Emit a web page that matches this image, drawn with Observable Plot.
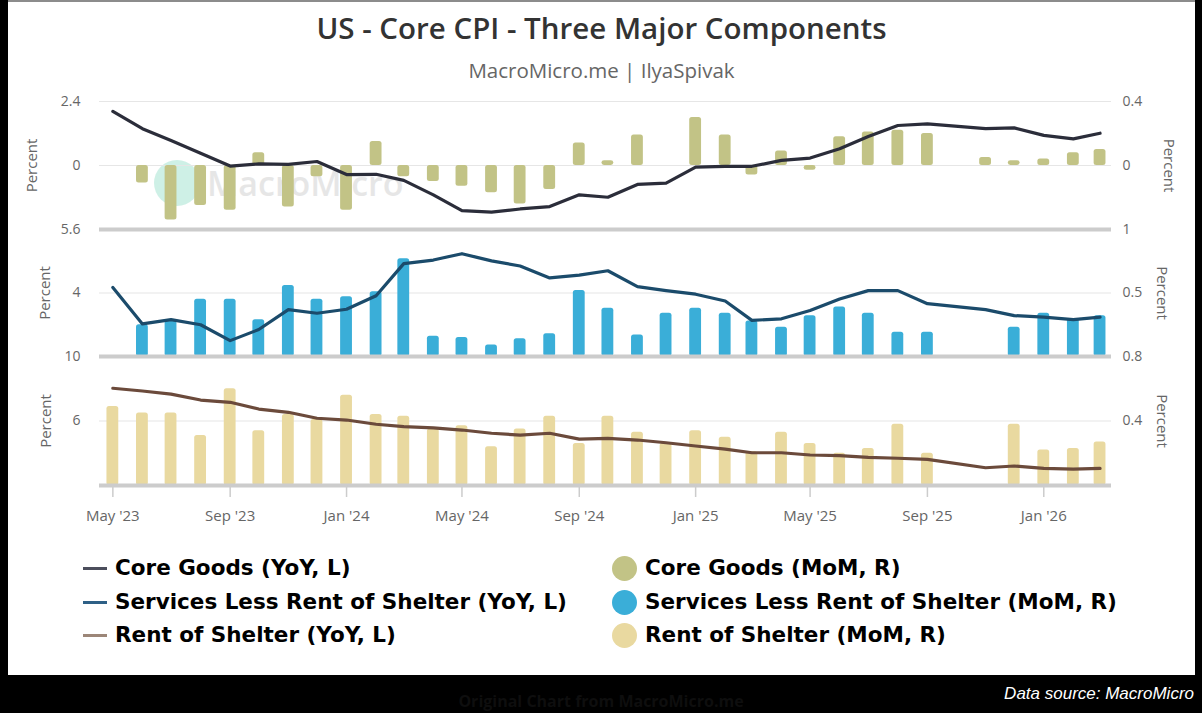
<!DOCTYPE html>
<html><head><meta charset="utf-8">
<script src="https://cdn.jsdelivr.net/npm/d3@7"></script>
<script src="https://cdn.jsdelivr.net/npm/@observablehq/plot@0.6"></script>
<style>
html,body{margin:0;padding:0;background:#000;}
body{width:1202px;height:713px;overflow:hidden;position:relative;font-family:"Open Sans",sans-serif;}
#card{position:absolute;left:8px;top:0;width:1187px;height:675px;background:#fff;overflow:hidden;}
#topline{position:absolute;left:0;top:0;width:100%;height:2px;background:#8c8c8c;}
#title{position:absolute;left:0;top:10px;width:100%;text-align:center;font-size:29.5px;font-weight:600;line-height:36px;color:#333;}
#subtitle{position:absolute;left:0;top:57px;width:100%;text-align:center;font-size:20.5px;line-height:26px;color:#666;}
.panel{position:absolute;left:0;}
.panel svg{overflow:visible;}
#wm{position:absolute;left:146px;top:160px;height:46px;opacity:0.5;}
#wm .c{position:absolute;left:0;top:0;width:46px;height:46px;border-radius:50%;background:#9fe3cf;}
#wm span{position:absolute;left:53px;top:0;line-height:46px;font-size:34px;font-weight:600;color:#cfcfcf;white-space:nowrap;}
.lg{position:absolute;height:30px;line-height:30px;font-family:"DejaVu Sans",sans-serif;font-weight:700;font-size:21.5px;color:#000;white-space:nowrap;}
.sw{position:absolute;}
#footer{position:absolute;left:0;top:675px;width:1202px;height:38px;background:#000;}
#src{position:absolute;right:8px;top:0;line-height:38px;font-family:"Liberation Sans",Arial,sans-serif;font-style:italic;font-size:17px;color:#fff;}
#ghost{position:absolute;left:0;width:1202px;text-align:center;top:14px;line-height:24px;font-size:16px;font-weight:700;color:#0e0e0e;}
</style></head><body>
<div id="card">
  <div id="topline"></div>
  <div id="title">US - Core CPI - Three Major Components</div>
  <div id="subtitle">MacroMicro.me | IlyaSpivak</div>
  <div id="wm"><div class="c"></div><span>MacroMicro</span></div>
  <div id="p1" class="panel"></div>
  <div id="p2" class="panel"></div>
  <div id="p3" class="panel"></div>
  <div id="legend"></div>
</div>
<div id="footer"><div id="ghost">Original Chart from MacroMicro.me</div><div id="src">Data source: MacroMicro</div></div>
<script>
// ---------- data ----------
const months = ["2023-05","2023-06","2023-07","2023-08","2023-09","2023-10","2023-11","2023-12",
  "2024-01","2024-02","2024-03","2024-04","2024-05","2024-06","2024-07","2024-08","2024-09","2024-10","2024-11","2024-12",
  "2025-01","2025-02","2025-03","2025-04","2025-05","2025-06","2025-07","2025-08","2025-09","2025-10","2025-11","2025-12",
  "2026-01","2026-02","2026-03"];

const coreGoodsYoY = [2.03,1.38,0.94,0.46,-0.02,0.06,0.04,0.15,-0.34,-0.33,-0.56,-1.10,-1.69,-1.75,-1.63,-1.54,-1.10,-1.19,-0.71,-0.66,
  -0.06,-0.03,-0.03,0.19,0.28,0.63,1.09,1.50,1.56,null,1.38,1.41,1.13,1.00,1.21];
const coreGoodsMoM = [null,-0.11,-0.34,-0.25,-0.28,0.08,-0.26,-0.07,-0.28,0.15,-0.07,-0.10,-0.13,-0.17,-0.24,-0.15,0.14,0.03,0.19,null,
  0.30,0.19,-0.06,0.09,-0.03,0.18,0.21,0.22,0.20,null,0.05,0.03,0.04,0.08,0.10];

const servicesYoY = [4.14,3.22,3.33,3.20,2.80,3.08,3.58,3.49,3.59,3.93,4.74,4.83,4.99,4.81,4.68,4.38,4.45,4.56,4.16,4.06,
  3.97,3.80,3.31,3.35,3.56,3.85,4.06,4.06,3.73,null,3.58,3.43,3.39,3.33,3.39];
const servicesMoM = [null,0.25,0.28,0.45,0.45,0.29,0.56,0.45,0.47,0.51,0.77,0.16,0.15,0.09,0.14,0.18,0.52,0.38,0.17,0.34,
  0.38,0.34,0.28,0.23,0.32,0.39,0.34,0.19,0.19,null,null,0.23,0.34,0.30,0.32];

const rentYoY = [8.03,7.86,7.67,7.30,7.16,6.74,6.54,6.17,6.06,5.80,5.65,5.57,5.44,5.24,5.13,5.24,4.88,4.92,4.82,4.65,
  4.45,4.26,4.03,4.03,3.89,3.85,3.75,3.69,3.62,null,3.10,3.21,3.06,3.02,3.06];
const rentMoM = [0.49,0.45,0.45,0.31,0.60,0.34,0.44,0.41,0.56,0.44,0.43,0.35,0.37,0.24,0.35,0.43,0.26,0.43,0.33,0.26,
  0.34,0.30,0.21,0.33,0.26,0.20,0.23,0.38,0.20,null,null,0.38,0.22,0.23,0.27];

// axis tick labels
const xTickMonths = ["2023-05","2023-09","2024-01","2024-05","2024-09","2025-01","2025-05","2025-09","2026-01"];
const xTickLabels = ["May '23","Sep '23","Jan '24","May '24","Sep '24","Jan '25","May '25","Sep '25","Jan '26"];

const leftTicks1 = [0, 2.4],   leftLabels1 = ["0", "2.4"],  rightLabels1 = ["0", "0.4"];
const leftTicks2 = [4, 5.6],   leftLabels2 = ["4", "5.6"],  rightLabels2 = ["0.5", "1"];
const leftTicks3 = [6, 10],    leftLabels3 = ["6", "10"],   rightLabels3 = ["0.4", "0.8"];

const legendLines = ["Core Goods (YoY, L)", "Services Less Rent of Shelter (YoY, L)", "Rent of Shelter (YoY, L)"];
const legendBars  = ["Core Goods (MoM, R)", "Services Less Rent of Shelter (MoM, R)", "Rent of Shelter (MoM, R)"];

// ---------- helpers ----------
const W = 1187, ML = 91, MR = 84;
const xDomain = [new Date("2023-04-17"), new Date("2026-03-13")];
const dates = months.map(m => new Date(m + "-01"));
const DAY = 864e5;

function panel(opts) {
  const {el, top, height, mt, mb, yDomain, rDomain, leftTicks, leftLabels, rightLabels, grid,
         lineVals, barVals, lineColor, barColor, dxL, dxR, xAxis} = opts;
  const toLeft = v => yDomain[0] + (v - rDomain[0]) / (rDomain[1] - rDomain[0]) * (yDomain[1] - yDomain[0]);
  const base = toLeft(0);
  const lineData = dates.map((d, i) => ({date: d, v: lineVals[i]})).filter(d => d.v != null);
  const barData = dates.map((d, i) => ({date: d, v: barVals[i]})).filter(d => d.v != null);
  const marks = [
    Plot.ruleY(grid, {stroke: "#e6e6e6", strokeWidth: 1.2}),
    Plot.rect(barData, {
      x1: d => new Date(+d.date - 6.2 * DAY), x2: d => new Date(+d.date + 6.2 * DAY),
      y1: base, y2: d => toLeft(d.v), fill: barColor, rx: 2.5
    }),
    Plot.ruleY([yDomain[0]], {stroke: "#cccccc", strokeWidth: 4}),
    Plot.line(lineData, {x: "date", y: "v", stroke: lineColor, strokeWidth: 3.2, strokeLinejoin: "round", strokeLinecap: "round"}),
    Plot.axisY({anchor: "left", ticks: leftTicks, tickFormat: d => leftLabels[leftTicks.indexOf(d)], tickSize: 0, tickPadding: 19, label: null, fill: "#666"}),
    Plot.axisY({anchor: "right", ticks: leftTicks, tickFormat: d => rightLabels[leftTicks.indexOf(d)], tickSize: 0, tickPadding: 11, label: null, fill: "#666"}),
    Plot.text(["Percent"], {frameAnchor: "left", textAnchor: "middle", dx: -dxL, rotate: -90, fill: "#666", fontSize: 15}),
    Plot.text(["Percent"], {frameAnchor: "right", textAnchor: "middle", dx: dxR, rotate: 90, fill: "#666", fontSize: 15})
  ];
  if (xAxis) {
    const tDates = xTickMonths.map(m => new Date(m + "-01"));
    marks.push(Plot.axisX({ticks: tDates, tickFormat: d => xTickLabels[tDates.findIndex(t => +t === +d)],
      tickSize: 12, tickPadding: 13, stroke: "#cccccc", strokeWidth: 1.5, fill: "#666", fontSize: 15, label: null}));
  }
  const chart = Plot.plot({
    width: W, height, marginLeft: ML, marginRight: MR, marginTop: mt, marginBottom: mb,
    style: {background: "transparent", fontFamily: "'Open Sans', sans-serif", fontSize: "14px", color: "#666", overflow: "visible"},
    x: {type: "utc", domain: xDomain, axis: xAxis ? undefined : null},
    y: {domain: yDomain},
    marks
  });
  const host = document.getElementById(el);
  host.style.top = top + "px";
  host.appendChild(chart);
}

panel({el: "p1", top: 91, height: 144, mt: 10, mb: 6, yDomain: [-2.4, 2.4], rDomain: [-0.4, 0.4],
  leftTicks: leftTicks1, leftLabels: leftLabels1, rightLabels: rightLabels1, grid: [0, 2.4],
  lineVals: coreGoodsYoY, barVals: coreGoodsMoM, lineColor: "#2b2d3a", barColor: "#c2c386", dxL: 67, dxR: 57});
panel({el: "p2", top: 219, height: 143, mt: 10, mb: 6, yDomain: [2.4, 5.6], rDomain: [0, 1],
  leftTicks: leftTicks2, leftLabels: leftLabels2, rightLabels: rightLabels2, grid: [4],
  lineVals: servicesYoY, barVals: servicesMoM, lineColor: "#1b4b6b", barColor: "#3aaed8", dxL: 54, dxR: 50});
panel({el: "p3", top: 346, height: 184, mt: 10, mb: 45, yDomain: [2, 10], rDomain: [0, 0.8],
  leftTicks: leftTicks3, leftLabels: leftLabels3, rightLabels: rightLabels3, grid: [6],
  lineVals: rentYoY, barVals: rentMoM, lineColor: "#6b4a3b", barColor: "#e9d9a0", dxL: 53, dxR: 50, xAxis: true});

// ---------- legend ----------
const legendLineColors = ["#4c4e5c", "#2e6086", "#9c8678"];
const legendBarColors = ["#c2c386", "#3aaed8", "#e9d9a0"];
const rowY = [568, 602, 635];
const lg = document.getElementById("legend");
legendLines.forEach((t, i) => {
  const sw = document.createElement("div");
  sw.className = "sw";
  Object.assign(sw.style, {left: "75px", top: (rowY[i] - 1.5) + "px", width: "24px", height: "3px", background: legendLineColors[i]});
  lg.appendChild(sw);
  const tx = document.createElement("div");
  tx.className = "lg"; tx.textContent = t;
  Object.assign(tx.style, {left: "107px", top: (rowY[i] - 15) + "px"});
  lg.appendChild(tx);
});
legendBars.forEach((t, i) => {
  const sw = document.createElement("div");
  sw.className = "sw";
  Object.assign(sw.style, {left: "604px", top: (rowY[i] - 12.5) + "px", width: "25px", height: "25px", borderRadius: "50%", background: legendBarColors[i]});
  lg.appendChild(sw);
  const tx = document.createElement("div");
  tx.className = "lg"; tx.textContent = t;
  Object.assign(tx.style, {left: "637px", top: (rowY[i] - 15) + "px"});
  lg.appendChild(tx);
});
</script>
</body></html>
